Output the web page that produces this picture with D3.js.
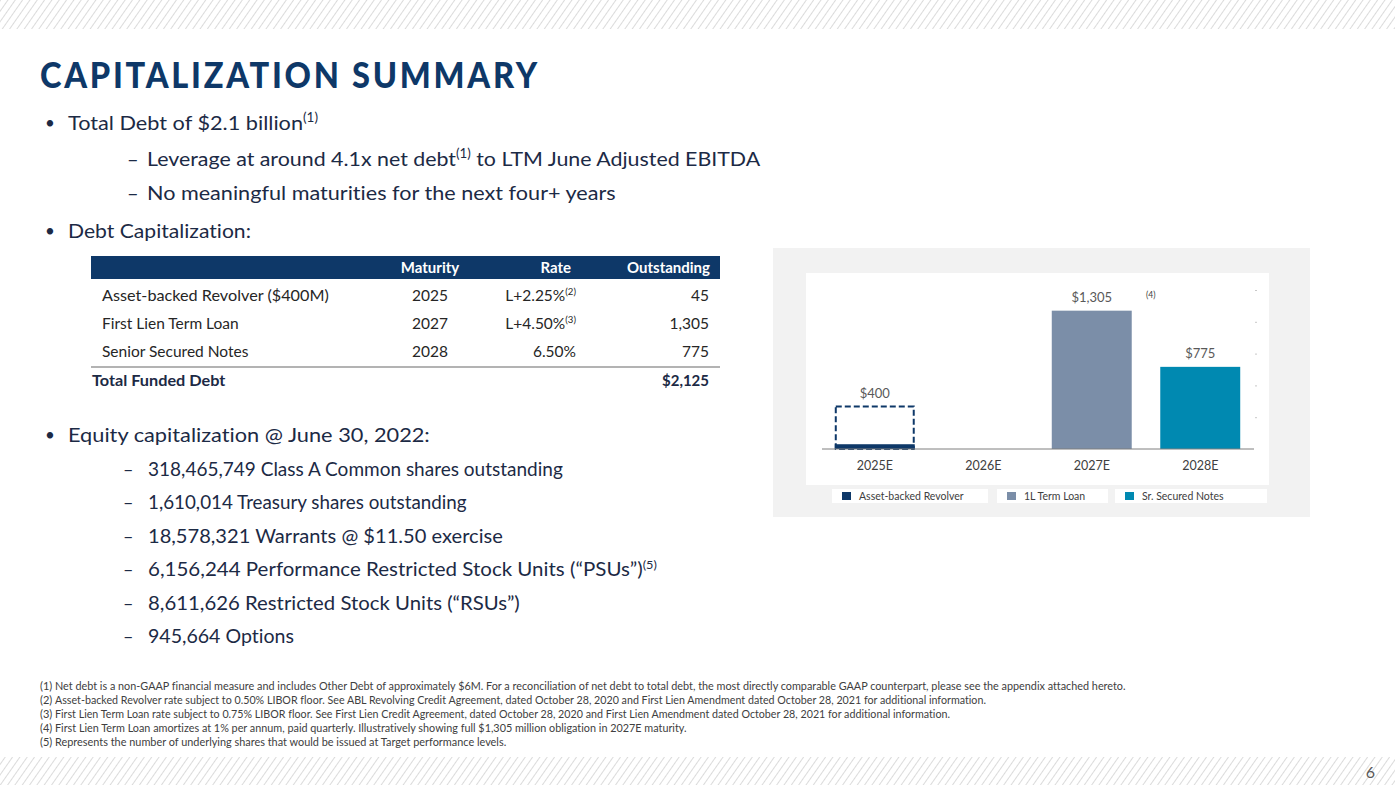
<!DOCTYPE html>
<html>
<head>
<meta charset="utf-8">
<script src="https://cdn.jsdelivr.net/npm/d3@7"></script>
<style>
  body { margin: 0; background: #fff; }
  svg { display: block; }
  text { font-family: Lato, "Open Sans", sans-serif; font-variant-ligatures: none; }
</style>
</head>
<body>
<svg id="slide" width="1395" height="785"></svg>
<script>
// ---- chart data ----
const categories = ["2025E", "2026E", "2027E", "2028E"];
const revolverDrawn = [45, 0, 0, 0];
const revolverCapacity = [400, 0, 0, 0];
const termLoan = [0, 0, 1305, 0];
const securedNotes = [0, 0, 0, 775];
const barLabels = ["$400", "", "$1,305", "$775"];
const barLabelNotes = ["", "", "(4)", ""];
const yTicks = [0, 300, 600, 900, 1200, 1500];
const legendNames = ["Asset-backed Revolver", "1L Term Loan", "Sr. Secured Notes"];

// ---- table data ----
const tableHeaders = ["Maturity", "Rate", "Outstanding"];
const debtNames = ["Asset-backed Revolver ($400M)", "First Lien Term Loan", "Senior Secured Notes"];
const debtMaturity = ["2025", "2027", "2028"];
const debtRate = ["L+2.25%", "L+4.50%", "6.50%"];
const debtRateNotes = ["(2)", "(3)", ""];
const debtOutstanding = [45, 1305, 775];
const totalLabel = "Total Funded Debt";
const totalValue = "$2,125";

// ---- text data ----
const debtBullets = [
  { level: 0, parts: ["Total Debt of $2.1 billion", "(1)"] },
  { level: 1, parts: ["Leverage at around 4.1x net debt", "(1)", " to LTM June Adjusted EBITDA"] },
  { level: 1, parts: ["No meaningful maturities for the next four+ years"] },
  { level: 0, parts: ["Debt Capitalization:"] }
];
const equityHeading = "Equity capitalization @ June 30, 2022:";
const equityItems = [
  ["318,465,749 Class A Common shares outstanding"],
  ["1,610,014 Treasury shares outstanding"],
  ["18,578,321 Warrants @ $11.50 exercise"],
  ["6,156,244 Performance Restricted Stock Units (\u201cPSUs\u201d)", "(5)"],
  ["8,611,626 Restricted Stock Units (\u201cRSUs\u201d)"],
  ["945,664 Options"]
];
const footnotes = [
  "Net debt is a non-GAAP financial measure and includes Other Debt of approximately $6M. For a reconciliation of net debt to total debt, the most directly comparable GAAP counterpart, please see the appendix attached hereto.",
  "Asset-backed Revolver rate subject to 0.50% LIBOR floor. See ABL Revolving Credit Agreement, dated October 28, 2020 and First Lien Amendment dated October 28, 2021 for additional information.",
  "First Lien Term Loan rate subject to 0.75% LIBOR floor. See First Lien Credit Agreement, dated October 28, 2020 and First Lien Amendment dated October 28, 2021 for additional information.",
  "First Lien Term Loan amortizes at 1% per annum, paid quarterly. Illustratively showing full $1,305 million obligation in 2027E maturity.",
  "Represents the number of underlying shares that would be issued at Target performance levels."
];

const navy = "#0e3868", slate = "#7b8ea8", teal = "#0089b1", bodyColor = "#1c2a45";

const svg = d3.select("#slide");

// squeeze a text element horizontally so it spans a given width (Calibri is narrower than Lato)
function fit(sel, width) {
  const w = sel.node().getBBox().width;
  const ox = +sel.attr("x");
  sel.attr("transform", `translate(${ox},0) scale(${width / w},1) translate(${-ox},0)`);
}

// write text made of plain parts and superscript notes, e.g. ["text", "(1)", "more"]
function richText(g, parts, x, y, size, color, weight) {
  const t = g.append("text").attr("x", x).attr("y", y)
    .attr("font-size", size).attr("fill", color).attr("font-weight", weight || 400);
  parts.forEach((p, i) => {
    const sup = /^\(\d\)$/.test(p);
    const prevSup = i > 0 && /^\(\d\)$/.test(parts[i - 1]);
    const ts = t.append("tspan").text(p);
    if (sup) ts.attr("font-size", size * 0.62).attr("dy", -size * 0.38);
    else if (prevSup) ts.attr("dy", size * 0.38);
  });
  return t;
}

// ---- striped bands ----
const defs = svg.append("defs");
const pat = defs.append("pattern").attr("id", "stripes")
  .attr("patternUnits", "userSpaceOnUse").attr("width", 6).attr("height", 6)
  .attr("patternTransform", "rotate(35)");
pat.append("line").attr("x1", 0).attr("y1", 0).attr("x2", 0).attr("y2", 6)
  .attr("stroke", "#bdbdbd").attr("stroke-width", 1.1);
svg.append("rect").attr("x", 0).attr("y", 0).attr("width", 1395).attr("height", 29).attr("fill", "url(#stripes)");
svg.append("rect").attr("x", 0).attr("y", 757).attr("width", 1395).attr("height", 28).attr("fill", "url(#stripes)");

// ---- title ----
const title = svg.append("text").attr("x", 40).attr("y", 88)
  .attr("font-size", 36).attr("font-weight", 900).attr("fill", navy)
  .attr("letter-spacing", 3).text("CAPITALIZATION SUMMARY");
fit(title, 500);

// ---- debt bullets ----
const txt = svg.append("g");
const bulletY = [130, 166, 200, 238];
const bulletW = [250, 614, 469, 183];
debtBullets.forEach((b, i) => {
  const y = bulletY[i];
  if (b.level === 0) {
    txt.append("text").attr("x", 45).attr("y", y - 1).attr("font-size", 17).attr("fill", bodyColor).text("\u2022");
    fit(richText(txt, b.parts, 68, y, 20, bodyColor), bulletW[i]);
  } else {
    txt.append("text").attr("x", 127).attr("y", y).attr("font-size", 20).attr("fill", bodyColor).text("\u2013");
    fit(richText(txt, b.parts, 147, y, 20, bodyColor), bulletW[i]);
  }
});

// ---- table ----
const tbl = svg.append("g");
const colMaturity = 430, colRate = 576, colOut = 710;
tbl.append("rect").attr("x", 91).attr("y", 256).attr("width", 629).attr("height", 23).attr("fill", navy);
[[colMaturity, "middle"], [colRate - 5, "end"], [colOut, "end"]].forEach(([x, a], i) => {
  tbl.append("text").attr("x", x).attr("y", 273).attr("text-anchor", a)
    .attr("font-size", 15).attr("font-weight", 700).attr("fill", "#fff").text(tableHeaders[i]);
});
const rowY = d3.scalePoint().domain(debtNames).range([301, 357]);
debtNames.forEach((n, i) => {
  const y = rowY(n);
  const lab = tbl.append("text").attr("x", 102).attr("y", y).attr("font-size", 15.5).attr("fill", "#262626").text(n);
  if (i === 0) fit(lab, 227);
  tbl.append("text").attr("x", colMaturity).attr("y", y).attr("text-anchor", "middle")
    .attr("font-size", 15.5).attr("fill", "#262626").text(debtMaturity[i]);
  const parts = debtRateNotes[i] ? [debtRate[i], debtRateNotes[i]] : [debtRate[i]];
  richText(tbl, parts, colRate, y, 15.5, "#262626").attr("text-anchor", "end");
  tbl.append("text").attr("x", colOut - 1).attr("y", y).attr("text-anchor", "end")
    .attr("font-size", 15.5).attr("fill", "#262626").text(d3.format(",")(debtOutstanding[i]));
});
tbl.append("line").attr("x1", 91).attr("x2", 720).attr("y1", 367).attr("y2", 367)
  .attr("stroke", "#9a9a9a").attr("stroke-width", 1.3);
const tot = tbl.append("text").attr("x", 92).attr("y", 386).attr("font-size", 15).attr("font-weight", 700)
  .attr("fill", "#1c2a45").text(totalLabel);
fit(tot, 134);
tbl.append("text").attr("x", colOut - 1).attr("y", 386).attr("text-anchor", "end").attr("font-size", 15)
  .attr("font-weight", 700).attr("fill", "#1c2a45").text(totalValue);

// ---- equity bullets ----
txt.append("text").attr("x", 45).attr("y", 441).attr("font-size", 17).attr("fill", bodyColor).text("\u2022");
fit(txt.append("text").attr("x", 68).attr("y", 442).attr("font-size", 20).attr("fill", bodyColor).text(equityHeading), 362);
const eqY = d3.scalePoint().domain(d3.range(equityItems.length)).range([476, 643]);
const eqW = [415, 319, 355, 509, 372, 146];
equityItems.forEach((parts, i) => {
  const y = eqY(i);
  txt.append("text").attr("x", 123).attr("y", y).attr("font-size", 18).attr("fill", bodyColor).text("\u2013");
  fit(richText(txt, parts, 148, y, 19, bodyColor), eqW[i]);
});

// ---- footnotes ----
const fnY = d3.scalePoint().domain(d3.range(footnotes.length)).range([690, 746]);
const fnW = [1072, 932, 896, 632, 452];
footnotes.forEach((f, i) => {
  const y = fnY(i);
  svg.append("text").attr("x", 40).attr("y", y).attr("font-size", 11).attr("fill", "#404040").text(`(${i + 1})`);
  fit(svg.append("text").attr("x", 55).attr("y", y).attr("font-size", 11).attr("fill", "#404040").text(f), fnW[i]);
});

// page number
svg.append("text").attr("x", 1375).attr("y", 778).attr("text-anchor", "end")
  .attr("font-size", 16).attr("fill", "#595959").text("6");

// ---- chart ----
const chart = svg.append("g");
chart.append("rect").attr("x", 773).attr("y", 248).attr("width", 537).attr("height", 269).attr("fill", "#f2f2f2");
chart.append("rect").attr("x", 806).attr("y", 273).attr("width", 463).attr("height", 212).attr("fill", "#fff");

const x = d3.scaleBand().domain(categories).range([821, 1254]).paddingInner(0.263).paddingOuter(0.127);
const y = d3.scaleLinear().domain([0, 1500]).range([449, 290]);

// faint right-hand tick marks
chart.append("g").attr("transform", "translate(1255,0)")
  .call(d3.axisRight(y).tickValues(yTicks.slice(1)).tickSize(2).tickFormat(""))
  .call(g => g.select(".domain").remove())
  .call(g => g.selectAll("line").attr("stroke", "#c8c8c8"));

// revolver capacity (dashed) and drawn amount
chart.selectAll(".cap").data(categories.filter((c, i) => revolverCapacity[i] > 0)).enter()
  .append("rect").attr("class", "cap")
  .attr("x", c => x(c) + 1).attr("width", x.bandwidth() - 2)
  .attr("y", c => y(revolverCapacity[categories.indexOf(c)]))
  .attr("height", c => y(0) - y(revolverCapacity[categories.indexOf(c)]))
  .attr("fill", "none").attr("stroke", navy).attr("stroke-width", 2).attr("stroke-dasharray", "6,3");

const series = [
  { values: revolverDrawn, color: navy },
  { values: termLoan, color: slate },
  { values: securedNotes, color: teal }
];
series.forEach(s => {
  chart.selectAll(null).data(categories.filter((c, i) => s.values[i] > 0)).enter()
    .append("rect")
    .attr("x", c => x(c)).attr("width", x.bandwidth())
    .attr("y", c => y(s.values[categories.indexOf(c)]))
    .attr("height", c => y(0) - y(s.values[categories.indexOf(c)]))
    .attr("fill", s.color);
});

// value labels above each column
const topVal = categories.map((c, i) => Math.max(revolverCapacity[i], termLoan[i], securedNotes[i]));
categories.forEach((c, i) => {
  if (!barLabels[i]) return;
  const cx = x(c) + x.bandwidth() / 2;
  chart.append("text").attr("x", cx).attr("y", y(topVal[i]) - 9)
    .attr("text-anchor", "middle").attr("font-size", 13).attr("fill", "#595959").text(barLabels[i]);
  if (barLabelNotes[i]) {
    chart.append("text").attr("x", cx + 59).attr("y", y(topVal[i]) - 13)
      .attr("text-anchor", "middle").attr("font-size", 8.5).attr("fill", "#404040").text(barLabelNotes[i]);
  }
});

// x axis
chart.append("g").attr("transform", `translate(0,${y(0)})`)
  .call(d3.axisBottom(x).tickSize(0).tickPadding(12))
  .call(g => g.select(".domain").attr("d", "M1,0H433").attr("transform", "translate(821,0)").attr("stroke", "#7f7f7f"))
  .call(g => g.selectAll("text").attr("font-size", 12.5).attr("fill", "#404040").attr("font-family", "Lato, sans-serif"));

// legend
const legendBoxes = [[832, 156], [997, 111], [1115, 152]];
const legendColors = [navy, slate, teal];
legendNames.forEach((n, i) => {
  const [lx, lw] = legendBoxes[i];
  chart.append("rect").attr("x", lx).attr("y", 489).attr("width", lw).attr("height", 14).attr("fill", "#fff");
  chart.append("rect").attr("x", lx + 10).attr("y", 492).attr("width", 9).attr("height", 8).attr("fill", legendColors[i]);
  chart.append("text").attr("x", lx + 27).attr("y", 500).attr("font-size", 10.5).attr("fill", "#404040").text(n);
});
</script>
</body>
</html>
